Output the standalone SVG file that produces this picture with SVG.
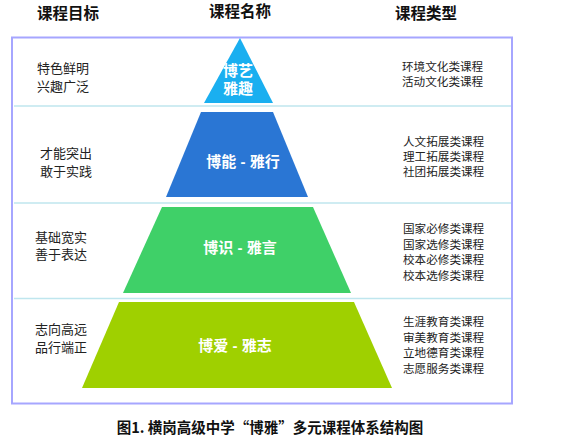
<svg xmlns="http://www.w3.org/2000/svg" width="575" height="443" viewBox="0 0 575 443">
<style>
text{font-family:"Liberation Sans","Noto Sans CJK SC",sans-serif}
.hd{font-weight:bold;font-size:15.5px;fill:#111;text-anchor:middle}
.lt{font-size:13px;fill:#222}
.rt{font-size:11.6px;fill:#222}
.pl{font-weight:bold;font-size:15px;fill:#fff;text-anchor:middle}
.sep{stroke:#bfe6ee;stroke-width:1.5}
.cap{font-family:"Noto Sans CJK SC",sans-serif;font-weight:bold;font-size:14.5px;fill:#111;text-anchor:middle}
</style>
<rect width="575" height="443" fill="#fff"/>
<g id="headers">
<text class="hd" x="68" y="19">课程目标</text>
<text class="hd" x="240" y="17">课程名称</text>
<text class="hd" x="426" y="19">课程类型</text>
</g>
<rect x="12" y="37.5" width="500" height="366" fill="none" stroke="#a6a6ff" stroke-width="2"/>
<g id="connectors">
<line class="sep" x1="14" y1="106" x2="511" y2="106"/>
<line class="sep" x1="14" y1="203" x2="511" y2="203"/>
<line class="sep" x1="14" y1="298.5" x2="511" y2="298.5"/>
</g>
<g id="level1">
<polygon points="240,38 273,103 204,103" fill="#1aaff0"/>
<text class="pl" x="238" y="76">博艺</text>
<text class="pl" x="238" y="94">雅趣</text>
<text class="lt" x="37" y="73">特色鲜明</text>
<text class="lt" x="37" y="91">兴趣广泛</text>
<text class="rt" x="402" y="71">环境文化类课程</text>
<text class="rt" x="402" y="86">活动文化类课程</text>
</g>
<g id="level2">
<polygon points="201,112 273,112 308,197 166,197" fill="#2a76d4"/>
<text class="pl" x="243" y="167" font-size="16">博能 - 雅行</text>
<text class="lt" x="40" y="158">才能突出</text>
<text class="lt" x="40" y="176">敢于实践</text>
<text class="rt" x="403" y="146">人文拓展类课程</text>
<text class="rt" x="403" y="161">理工拓展类课程</text>
<text class="rt" x="403" y="176">社团拓展类课程</text>
</g>
<g id="level3">
<polygon points="162,207 313,207 351,293 123,293" fill="#3fd068"/>
<text class="pl" x="240" y="253" font-size="16">博识 - 雅言</text>
<text class="lt" x="35" y="241.5">基础宽实</text>
<text class="lt" x="35" y="259">善于表达</text>
<text class="rt" x="403" y="233">国家必修类课程</text>
<text class="rt" x="403" y="249">国家选修类课程</text>
<text class="rt" x="403" y="264">校本必修类课程</text>
<text class="rt" x="403" y="280">校本选修类课程</text>
</g>
<g id="level4">
<polygon points="119,302 354,302 392,388 82,388" fill="#9fd000"/>
<text class="pl" x="235" y="351" font-size="16">博爱 - 雅志</text>
<text class="lt" x="35" y="334">志向高远</text>
<text class="lt" x="35" y="352">品行端正</text>
<text class="rt" x="403" y="326">生涯教育类课程</text>
<text class="rt" x="403" y="342">审美教育类课程</text>
<text class="rt" x="403" y="357">立地德育类课程</text>
<text class="rt" x="403" y="373">志愿服务类课程</text>
</g>
<g id="caption">
<text class="cap" x="270" y="433">图1. 横岗高级中学“博雅”多元课程体系结构图</text>
</g>
</svg>
